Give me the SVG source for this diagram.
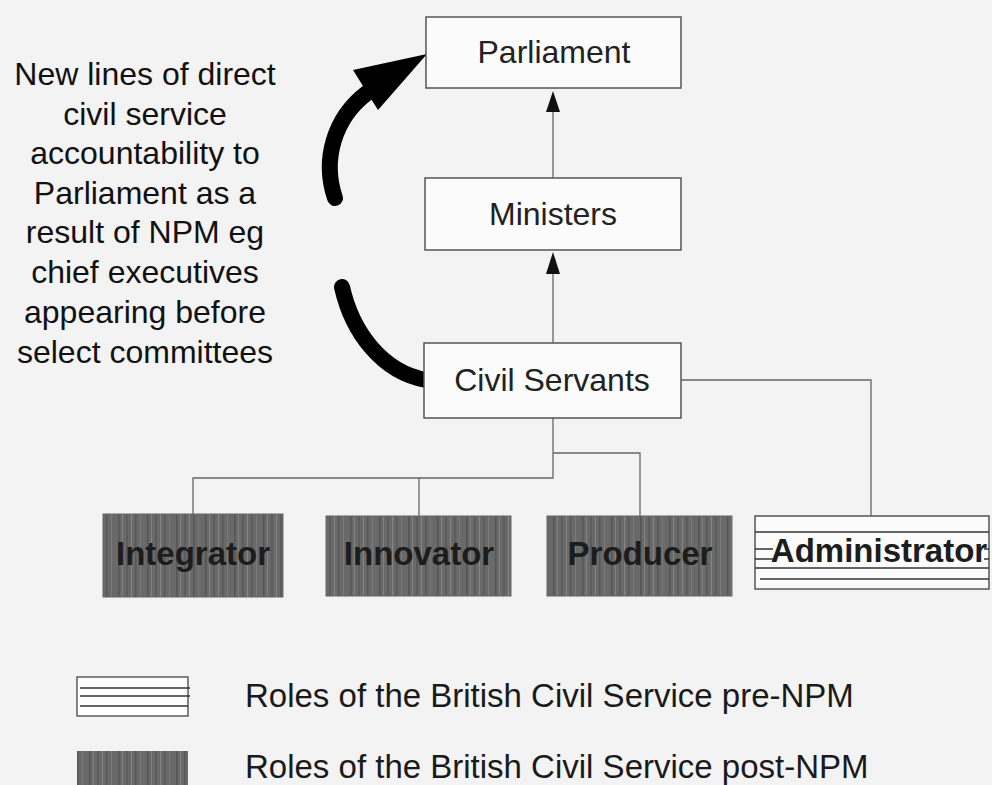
<svg xmlns="http://www.w3.org/2000/svg" width="992" height="785" viewBox="0 0 992 785">
<defs>
<pattern id="streak" patternUnits="userSpaceOnUse" width="29" height="10">
<rect width="29" height="10" fill="#696969"/>
<rect x="2" width="1.5" height="10" fill="#555"/>
<rect x="6" width="1" height="10" fill="#828282"/>
<rect x="10" width="2" height="10" fill="#5c5c5c"/>
<rect x="15" width="1" height="10" fill="#878787"/>
<rect x="19" width="1.5" height="10" fill="#575757"/>
<rect x="24" width="1" height="10" fill="#7a7a7a"/>
</pattern>
</defs>
<style>
.box{fill:#fbfbfb;stroke:#555;stroke-width:1.5}
.dark{fill:url(#streak);stroke:#666;stroke-width:1}
.lbl{font-family:"Liberation Sans",Arial,sans-serif;font-size:32px;fill:#222;text-anchor:middle}
.blbl{font-family:"Liberation Sans",Arial,sans-serif;font-size:33px;font-weight:bold;fill:#1c1c1c;text-anchor:middle}
.conn{fill:none;stroke:#666;stroke-width:1.3}
.hatch{stroke:#333;stroke-width:1.5}
.ann{font-family:"Liberation Sans",Arial,sans-serif;font-size:32px;fill:#111;text-anchor:middle}
.leg{font-family:"Liberation Sans",Arial,sans-serif;font-size:33px;fill:#1a1a1a}
</style>
<rect width="992" height="785" fill="#f3f3f3"/>

<g id="connectors">
<line class="conn" x1="553" y1="178" x2="553" y2="110"/>
<polygon points="553,91 546,112 560,112" fill="#111"/>
<line class="conn" x1="553" y1="343" x2="553" y2="272"/>
<polygon points="553,252 546,274 560,274" fill="#111"/>
<polyline class="conn" points="553,418 553,478 193,478 193,514"/>
<line class="conn" x1="419" y1="478" x2="419" y2="516"/>
<polyline class="conn" points="553,453 640,453 640,516"/>
<polyline class="conn" points="681,380 871,380 871,516"/>
<path d="M342,287 C352,332 382,372 426,380" fill="none" stroke="#000" stroke-width="16" stroke-linecap="round"/>
<path d="M335,198 C322,160 334,118 367,93" fill="none" stroke="#000" stroke-width="16" stroke-linecap="round"/>
<polygon points="427,54 353,70 378,110" fill="#000"/>
</g>

<g id="parliament">
<rect class="box" x="426" y="17" width="255" height="71"/>
<text class="lbl" x="554" y="63">Parliament</text>
</g>
<g id="ministers">
<rect class="box" x="425" y="178" width="256" height="72"/>
<text class="lbl" x="553" y="225">Ministers</text>
</g>
<g id="civil-servants">
<rect class="box" x="424" y="343" width="257" height="75"/>
<text class="lbl" x="552" y="391">Civil Servants</text>
</g>

<g id="integrator">
<rect class="dark" x="103" y="514" width="180" height="83"/>
<text class="blbl" x="193" y="565">Integrator</text>
</g>
<g id="innovator">
<rect class="dark" x="326" y="516" width="185" height="80"/>
<text class="blbl" x="419" y="565">Innovator</text>
</g>
<g id="producer">
<rect class="dark" x="547" y="516" width="185" height="80"/>
<text class="blbl" x="640" y="565">Producer</text>
</g>
<g id="administrator">
<rect class="box" x="755" y="516" width="234" height="73" fill="#fff"/>
<line class="hatch" x1="755" y1="532" x2="989" y2="532"/>
<line class="hatch" x1="755" y1="549" x2="989" y2="549"/>
<line class="hatch" x1="755" y1="559" x2="989" y2="559"/>
<line class="hatch" x1="755" y1="568" x2="989" y2="568"/>
<line class="hatch" x1="760" y1="579" x2="989" y2="579"/>
<rect x="773" y="538" width="211" height="26" fill="#fbfbfb"/>
<text class="blbl" x="879" y="562">Administrator</text>
</g>

<g id="annotation">
<text class="ann" x="145" y="85">New lines of direct</text>
<text class="ann" x="145" y="125">civil service</text>
<text class="ann" x="145" y="164">accountability to</text>
<text class="ann" x="145" y="204">Parliament as a</text>
<text class="ann" x="145" y="243">result of NPM eg</text>
<text class="ann" x="145" y="283">chief executives</text>
<text class="ann" x="145" y="323">appearing before</text>
<text class="ann" x="145" y="363">select committees</text>
</g>

<g id="legend">
<rect x="77" y="677" width="111" height="39" fill="#fff" stroke="#444" stroke-width="1.3"/>
<line class="hatch" x1="80" y1="688" x2="190" y2="688"/>
<line class="hatch" x1="80" y1="696" x2="190" y2="696"/>
<line class="hatch" x1="80" y1="706" x2="188" y2="706"/>
<text class="leg" x="245" y="707">Roles of the British Civil Service pre-NPM</text>
<rect x="77" y="751" width="111" height="40" fill="url(#streak)"/>
<text class="leg" x="245" y="778">Roles of the British Civil Service post-NPM</text>
</g>
</svg>
